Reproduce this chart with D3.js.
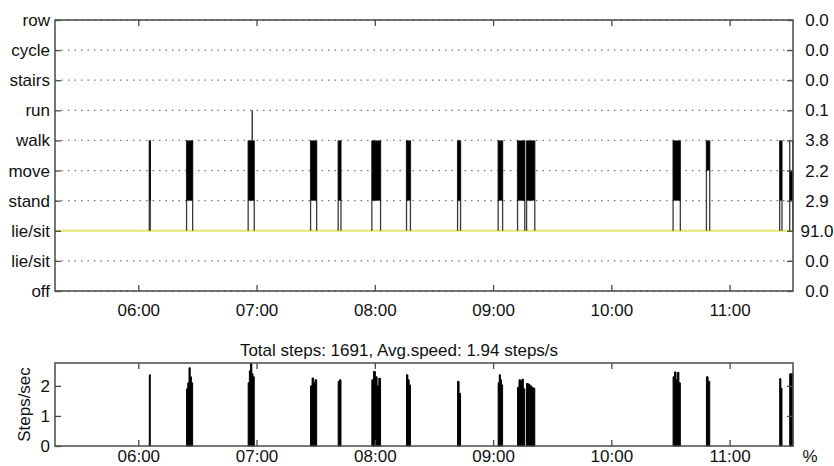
<!DOCTYPE html>
<html>
<head>
<meta charset="utf-8">
<script src="https://cdn.jsdelivr.net/npm/d3@7"></script>
<style>
  body { margin: 0; background: #fff; }
  svg { display: block; font-family: "Liberation Sans", Arial, sans-serif; }
</style>
</head>
<body>
<div id="chart"></div>
<script>
const frameColor = '#4a4a4a';
const textColor = '#111';
const gridColor = '#777';
const restColor = '#e6e46c';
const fontSize = '17px';

// activity levels, top to bottom, with the share of time (%) in each
const levelLabels = ['row', 'cycle', 'stairs', 'run', 'walk', 'move', 'stand', 'lie/sit', 'lie/sit', 'off'];
const levelPercent = [0.0, 0.0, 0.0, 0.1, 3.8, 2.2, 2.9, 91.0, 0.0, 0.0];
const restLevel = 7;

const hourTicks = ['06:00', '07:00', '08:00', '09:00', '10:00', '11:00'];
const timeStart = '05:17:45';
const timeEnd = '11:32:10';

// activity bouts
const boutStart = ['06:05:35', '06:24:30', '06:55:45', '07:27:25', '07:41:25', '07:58:30', '08:16:05', '08:42:00',
  '09:02:35', '09:12:25', '09:17:00', '10:31:20', '10:48:15', '11:25:25', '11:30:30'];
const boutEnd = ['06:06:05', '06:27:35', '06:58:50', '07:30:30', '07:42:50', '08:02:55', '08:18:05', '08:43:30',
  '09:04:50', '09:16:05', '09:21:10', '10:35:00', '10:49:55', '11:26:35', '11:32:05'];
const boutPeak = ['walk', 'walk', 'run', 'walk', 'walk', 'walk', 'walk', 'walk',
  'walk', 'walk', 'walk', 'walk', 'walk', 'walk', 'walk'];
const boutFillTop = ['walk', 'walk', 'walk', 'walk', 'walk', 'walk', 'walk', 'walk',
  'walk', 'walk', 'walk', 'walk', 'walk', 'walk', 'move'];
const boutFillBottom = ['stand', 'stand', 'stand', 'stand', 'stand', 'stand', 'stand', 'stand',
  'stand', 'stand', 'stand', 'stand', 'move', 'stand', 'stand'];

// step speed samples (steps/s) inside each bout
const boutSpeed = [
  [2.35, 2.37],
  [1.9, 2.1, 2.6, 2.3, 2.1],
  [2.1, 2.5, 2.74, 2.4, 2.3],
  [2.0, 2.26, 2.1, 2.2],
  [2.15, 2.2],
  [2.2, 2.48, 2.3, 2.0, 2.25],
  [2.37, 2.2, 2.03],
  [2.15, 1.75],
  [2.1, 2.37, 2.2, 2.03],
  [1.95, 2.2, 2.15, 2.22, 1.9],
  [2.08, 2.05, 2.0, 1.95, 1.92],
  [2.3, 2.46, 2.2, 2.45, 2.1],
  [2.3, 2.15],
  [2.24, 1.92],
  [2.4]
];
const speedTicks = [0, 1, 2];
const totalSteps = 1691;
const avgSpeed = 1.94;

const width = 834;
const height = 466;
const plotLeft = 55;
const plotRight = 793;
const levelTop = 20;
const levelBottom = 291;
const stepsTop = 363;
const stepsBottom = 446;
const TICK = 6;

const parseTime = d3.timeParse('%H:%M:%S');
const parseHour = d3.timeParse('%H:%M');

function levelIndex(name) {
  return levelLabels.indexOf(name);
}

function styleAxis(g) {
  g.select('.domain').remove();
  g.selectAll('line').attr('stroke', frameColor).attr('stroke-width', 1.3);
  g.selectAll('text').attr('fill', textColor).style('font-size', fontSize);
}

function drawFrame(svg, top, bottom) {
  svg.append('rect')
    .attr('x', plotLeft)
    .attr('y', top)
    .attr('width', plotRight - plotLeft)
    .attr('height', bottom - top)
    .attr('fill', 'none')
    .attr('stroke', frameColor)
    .attr('stroke-width', 1.5);
}

function renderLevels(svg, xScale) {
  const yScale = d3.scaleLinear()
    .domain([0, levelLabels.length - 1])
    .range([levelTop, levelBottom]);
  const indices = d3.range(levelLabels.length);

  // dotted grid
  svg.append('g')
    .selectAll('line')
    .data(indices.filter(i => i !== restLevel))
    .join('line')
    .attr('x1', plotLeft)
    .attr('x2', plotRight)
    .attr('y1', d => yScale(d))
    .attr('y2', d => yScale(d))
    .attr('stroke', gridColor)
    .attr('stroke-width', 1.3)
    .attr('stroke-dasharray', '1.5,5');

  svg.append('line')
    .attr('x1', plotLeft)
    .attr('x2', plotRight)
    .attr('y1', yScale(restLevel))
    .attr('y2', yScale(restLevel))
    .attr('stroke', restColor)
    .attr('stroke-width', 2);

  const bouts = svg.append('g');
  boutStart.forEach((s, i) => {
    const x0 = xScale(parseTime(s));
    const x1 = xScale(parseTime(boutEnd[i]));
    const yRest = yScale(restLevel);
    const yWalk = yScale(levelIndex('walk'));

    [x0, x1].forEach(x => {
      bouts.append('line')
        .attr('x1', x).attr('x2', x)
        .attr('y1', yRest).attr('y2', yWalk)
        .attr('stroke', '#3a3a3a')
        .attr('stroke-width', 1.3);
    });

    const yTop = yScale(levelIndex(boutFillTop[i]));
    const yBottom = yScale(levelIndex(boutFillBottom[i]));
    bouts.append('rect')
      .attr('x', x0)
      .attr('y', yTop)
      .attr('width', Math.max(x1 - x0, 1.5))
      .attr('height', yBottom - yTop)
      .attr('fill', '#000');

    if (boutPeak[i] !== 'walk') {
      const xm = (x0 + x1) / 2 + 1;
      bouts.append('line')
        .attr('x1', xm).attr('x2', xm)
        .attr('y1', yWalk).attr('y2', yScale(levelIndex(boutPeak[i])))
        .attr('stroke', '#222')
        .attr('stroke-width', 1.3);
    }
  });

  drawFrame(svg, levelTop, levelBottom);

  const tickValues = hourTicks.map(parseHour);

  svg.append('g')
    .attr('transform', `translate(0, ${levelTop})`)
    .call(d3.axisTop(xScale).tickValues(tickValues).tickSize(-TICK).tickFormat(''))
    .call(styleAxis);

  svg.append('g')
    .attr('transform', `translate(0, ${levelBottom})`)
    .call(d3.axisBottom(xScale).tickValues(tickValues).tickSize(-TICK).tickPadding(13)
      .tickFormat(d3.timeFormat('%H:%M')))
    .call(styleAxis);

  svg.append('g')
    .attr('transform', `translate(${plotLeft}, 0)`)
    .call(d3.axisLeft(yScale).tickValues(indices).tickSize(-TICK).tickPadding(5)
      .tickFormat(i => levelLabels[i]))
    .call(styleAxis);

  const right = svg.append('g')
    .attr('transform', `translate(${plotRight}, 0)`)
    .call(d3.axisRight(yScale).tickValues(indices).tickSize(-TICK)
      .tickFormat(i => levelPercent[i].toFixed(1)))
    .call(styleAxis);
  right.selectAll('text')
    .attr('x', 24)
    .attr('text-anchor', 'middle');
}

function renderSteps(svg, xScale) {
  const yScale = d3.scaleLinear()
    .domain([0, 2.76])
    .range([stepsBottom, stepsTop]);

  svg.append('text')
    .attr('x', 399)
    .attr('y', 356)
    .attr('text-anchor', 'middle')
    .attr('fill', textColor)
    .style('font-size', fontSize)
    .text(`Total steps: ${totalSteps}, Avg.speed: ${avgSpeed.toFixed(2)} steps/s`);

  const area = d3.area()
    .x(d => d.x)
    .y0(yScale(0))
    .y1(d => yScale(d.v))
    .curve(d3.curveStepAfter);

  boutSpeed.forEach((values, i) => {
    const t0 = parseTime(boutStart[i]);
    const t1 = parseTime(boutEnd[i]);
    const pos = d3.scaleLinear().domain([0, values.length]).range([xScale(t0), xScale(t1)]);
    const points = values.map((v, k) => ({x: pos(k), v}));
    points.push({x: pos(values.length), v: values[values.length - 1]});

    svg.append('path')
      .datum(points)
      .attr('d', area)
      .attr('fill', '#000')
      .attr('stroke', '#000')
      .attr('stroke-width', 1);
  });

  drawFrame(svg, stepsTop, stepsBottom);

  const tickValues = hourTicks.map(parseHour);

  svg.append('g')
    .attr('transform', `translate(0, ${stepsTop})`)
    .call(d3.axisTop(xScale).tickValues(tickValues).tickSize(-TICK).tickFormat(''))
    .call(styleAxis);

  // the reference cuts these labels at the bottom edge; keep them just inside
  svg.append('g')
    .attr('transform', `translate(0, ${stepsBottom})`)
    .call(d3.axisBottom(xScale).tickValues(tickValues).tickSize(-TICK).tickPadding(4)
      .tickFormat(d3.timeFormat('%H:%M')))
    .call(styleAxis);

  svg.append('g')
    .attr('transform', `translate(${plotLeft}, 0)`)
    .call(d3.axisLeft(yScale).tickValues(speedTicks).tickSize(-TICK).tickPadding(5)
      .tickFormat(d3.format('d')))
    .call(styleAxis);

  svg.append('g')
    .attr('transform', `translate(${plotRight}, 0)`)
    .call(d3.axisRight(yScale).tickValues(speedTicks.slice(1)).tickSize(-TICK).tickFormat(''))
    .call(styleAxis);

  svg.append('text')
    .attr('transform', `translate(30, ${(stepsTop + stepsBottom) / 2}) rotate(-90)`)
    .attr('text-anchor', 'middle')
    .attr('fill', textColor)
    .style('font-size', fontSize)
    .text('Steps/sec');

  svg.append('text')
    .attr('x', 810)
    .attr('y', 462)
    .attr('text-anchor', 'middle')
    .attr('fill', textColor)
    .style('font-size', fontSize)
    .text('%');
}

const svg = d3.select('#chart')
  .append('svg')
  .attr('width', width)
  .attr('height', height);

const xScale = d3.scaleTime()
  .domain([parseTime(timeStart), parseTime(timeEnd)])
  .range([plotLeft, plotRight]);

renderLevels(svg, xScale);
renderSteps(svg, xScale);
</script>
</body>
</html>
